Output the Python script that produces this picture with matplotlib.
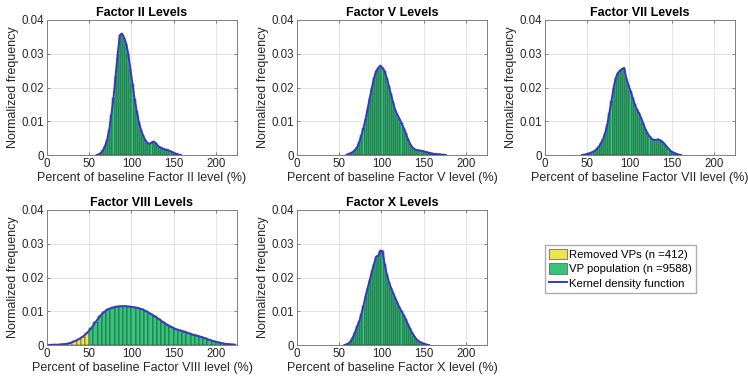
import numpy as np
import matplotlib
matplotlib.use("Agg")
import matplotlib.pyplot as plt
from matplotlib.patches import Patch
from matplotlib.lines import Line2D

plt.rcParams['font.family'] = ['Liberation Sans', 'DejaVu Sans']

# bin centres / normalized frequencies
f2_x = np.arange(58.75, 160, 2.5)
f2_y = [0.0000, 0.0002, 0.0006, 0.0014, 0.0027, 0.0045, 0.0075, 0.0120, 0.0170, 0.0235,
        0.0300, 0.0355, 0.0360, 0.0348, 0.0330, 0.0300, 0.0255, 0.0210, 0.0165, 0.0130,
        0.0098, 0.0075, 0.0058, 0.0045, 0.0036, 0.0033, 0.0037, 0.0040, 0.0035, 0.0027,
        0.0023, 0.0020, 0.0017, 0.0016, 0.0014, 0.0011, 0.0008, 0.0005, 0.0003, 0.0001,
        0.0000]

f5_x = np.arange(58.75, 177, 2.5)
f5_y = [0.0001, 0.0003, 0.0006, 0.0009, 0.0015, 0.0023, 0.0038, 0.0058, 0.0080, 0.0107,
        0.0138, 0.0170, 0.0200, 0.0228, 0.0248, 0.0258, 0.0265, 0.0258, 0.0248, 0.0228,
        0.0205, 0.0180, 0.0156, 0.0134, 0.0120, 0.0108, 0.0095, 0.0080, 0.0065, 0.0048,
        0.0034, 0.0024, 0.0018, 0.0015, 0.0014, 0.0013, 0.0012, 0.0010, 0.0008, 0.0007,
        0.0005, 0.0004, 0.0003, 0.0002, 0.0002, 0.0001, 0.0001, 0.0000]

f7_x = np.arange(43.75, 162, 2.5)
f7_y = [0.0000, 0.0001, 0.0002, 0.0004, 0.0006, 0.0009, 0.0012, 0.0018, 0.0025, 0.0035,
        0.0047, 0.0065, 0.0090, 0.0125, 0.0160, 0.0200, 0.0228, 0.0243, 0.0250, 0.0255,
        0.0258, 0.0228, 0.0208, 0.0190, 0.0170, 0.0150, 0.0135, 0.0125, 0.0110, 0.0094,
        0.0078, 0.0065, 0.0055, 0.0048, 0.0045, 0.0045, 0.0046, 0.0044, 0.0040, 0.0034,
        0.0026, 0.0019, 0.0012, 0.0008, 0.0005, 0.0003, 0.0001, 0.0000]

f8_x = np.arange(2.5, 225, 5.0)
f8_y = [0.0000, 0.0001, 0.0001, 0.0002, 0.0003, 0.0006, 0.0011, 0.0017, 0.0025, 0.0036,
        0.0050, 0.0068, 0.0085, 0.0098, 0.0106, 0.0111, 0.0114, 0.0115, 0.0115, 0.0114,
        0.0112, 0.0110, 0.0106, 0.0100, 0.0093, 0.0085, 0.0077, 0.0068, 0.0060, 0.0053,
        0.0047, 0.0043, 0.0040, 0.0035, 0.0031, 0.0028, 0.0024, 0.0020, 0.0015, 0.0011,
        0.0008, 0.0005, 0.0003, 0.0002, 0.0001]
f8_cut = 50  # VPs below this were removed

f10_x = np.arange(56.25, 157, 2.5)
f10_y = [0.0000, 0.0002, 0.0005, 0.0012, 0.0023, 0.0038, 0.0055, 0.0070, 0.0092, 0.0117,
         0.0145, 0.0170, 0.0193, 0.0218, 0.0240, 0.0262, 0.0265, 0.0280, 0.0278, 0.0240,
         0.0210, 0.0188, 0.0170, 0.0155, 0.0140, 0.0126, 0.0112, 0.0100, 0.0088, 0.0076,
         0.0062, 0.0049, 0.0037, 0.0027, 0.0018, 0.0012, 0.0008, 0.0005, 0.0003, 0.0001,
         0.0000]

panels = [
    ("II", f2_x, f2_y, 2.5),
    ("V", f5_x, f5_y, 2.5),
    ("VII", f7_x, f7_y, 2.5),
    ("VIII", f8_x, f8_y, 5.0),
    ("X", f10_x, f10_y, 2.5),
]

green = '#35c47a'
yellow = '#f0e350'
kde_col = '#3535d0'
edge = '#1c3326'

W, H = 748, 385
boxes = [(47, 20), (297, 20), (545, 20), (47, 210), (297, 210)]
aw, ah = 190, 135

fig = plt.figure(figsize=(W / 100, H / 100), dpi=100)

for (name, x, y, w), (px, py) in zip(panels, boxes):
    ax = fig.add_axes([px / W, 1 - (py + ah) / H, aw / W, ah / H])
    x = np.asarray(x)
    y = np.asarray(y)
    cols = [green] * len(x)
    if name == "VIII":
        cols = [yellow if c < f8_cut else green for c in x]
    ax.bar(x, y, width=w, color=cols, edgecolor=edge, linewidth=0.35, zorder=2)
    ax.plot(x, y, color=kde_col, lw=1.4, zorder=3)
    ax.set_xlim(0, 225)
    ax.set_ylim(0, 0.04)
    ax.set_xticks([0, 50, 100, 150, 200])
    ax.set_yticks([0, 0.01, 0.02, 0.03, 0.04])
    ax.set_yticklabels(['0', '0.01', '0.02', '0.03', '0.04'])
    ax.grid(True, color='#e0e0e0', lw=0.6, zorder=0)
    ax.set_axisbelow(True)
    ax.tick_params(direction='in', top=True, right=True, labelsize=8.3,
                   length=2.5, width=0.5, color='#555555', pad=2, labelcolor='#262626')
    for s in ax.spines.values():
        s.set_color('#808080')
        s.set_linewidth(0.7)
    ax.set_title("Factor %s Levels" % name, fontsize=9, fontweight='bold', pad=3)
    ax.set_xlabel("Percent of baseline Factor %s level (%%)" % name, fontsize=9,
                  labelpad=1.5, color='#262626')
    ax.set_ylabel("Normalized frequency", fontsize=9, labelpad=2, color='#262626')

handles = [
    Patch(facecolor=yellow, edgecolor='#555555', lw=0.5),
    Patch(facecolor=green, edgecolor='#555555', lw=0.5),
    Line2D([], [], color=kde_col, lw=1.4),
]
labels = ["Removed VPs (n =412)", "VP population (n =9588)", "Kernel density function"]
fig.legend(handles, labels, loc='upper left', bbox_to_anchor=(545 / W, 1 - 245 / H),
           fontsize=8.2, frameon=True, fancybox=False, edgecolor='#999999',
           handlelength=1.6, handleheight=1.0, handletextpad=0.15, labelspacing=0.3,
           borderpad=0.35, borderaxespad=0)

fig.savefig("out.png", dpi=100)
